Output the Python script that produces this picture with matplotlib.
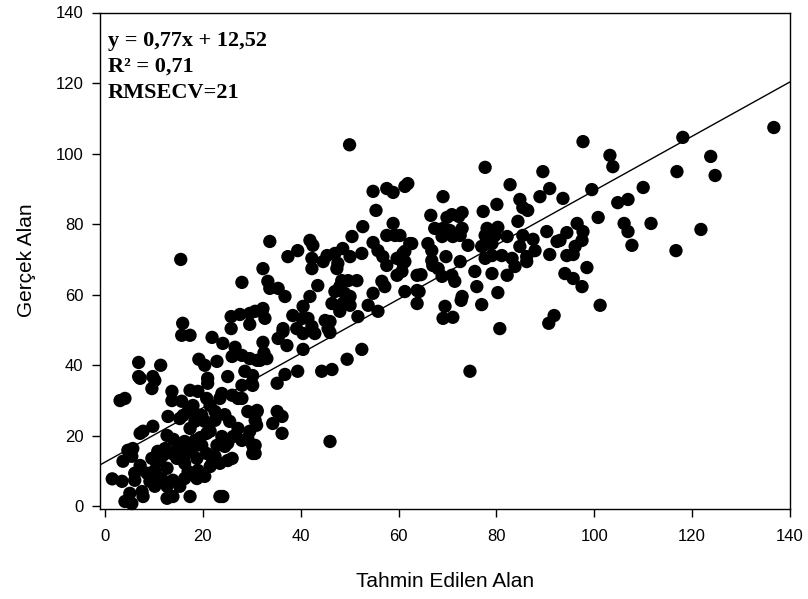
import numpy as np
import matplotlib
matplotlib.use("Agg")
from matplotlib import pyplot as plt

pred = [
    4.1, 3.1, 7.2, 9.6, 9.8, 6.9, 6.9, 11.4, 13.7, 13.7, 15.7, 17.4, 19.0, 21.0, 21.0, 25.1,
    23.9, 26.0, 28.0, 30.0, 27.2, 31.1, 29.2, 18.0, 18.4, 19.8, 21.5, 22.5, 12.9, 15.3, 9.8,
    7.2, 12.7, 17.4, 18.4, 20.8, 25.5, 27.2, 29.2, 30.7, 30.7, 28.0, 23.9, 22.9, 24.5, 21.9,
    26.0, 4.7, 3.7, 5.5, 7.2, 9.6, 10.8, 12.3, 11.2, 13.7, 14.7, 16.3, 17.8, 18.8, 16.3, 17.0,
    19.0, 12.7, 10.2, 8.6, 6.1, 1.5, 3.5, 6.1, 9.2, 11.6, 13.9, 16.3, 18.8, 15.3, 12.7, 10.2,
    7.6, 5.1, 4.1, 5.5, 7.8, 12.7, 13.9, 17.4, 23.5, 24.1, 20.4, 21.5, 22.5, 25.1, 23.5,
    14.9, 16.3, 18.4, 19.8, 16.8, 20.8, 20.4, 17.0, 30.7, 31.0, 26.2,
    20.8, 23.5, 28.0, 16.0, 22.5, 29.6, 7.8, 21.5, 25.1, 15.3, 11.9, 5.7, 10.2, 19.5, 14.0, 24.5,
    15.5, 28.0, 32.3, 15.9, 15.7, 17.4, 25.8, 27.6, 29.6, 29.6, 25.8, 32.1, 21.9, 24.1, 26.6,
    26.0, 28.0, 29.6, 31.7, 19.2, 20.4, 22.9, 28.6, 30.2, 32.3, 32.5,
    35.4, 37.2, 40.5, 36.4, 40.5, 42.9, 46.0, 31.1, 33.1, 36.8, 39.4, 35.2, 30.2, 44.3, 46.4,
    49.5, 52.5, 31.1, 35.2, 36.2, 34.3, 36.2, 30.2, 30.2, 46.0,
    54.8, 57.6, 58.9, 61.3, 61.9, 55.4, 58.9, 52.7, 50.5, 57.6, 59.3, 54.8, 62.7, 33.7, 41.9,
    42.5, 39.4, 37.4, 42.3, 45.4, 47.0, 48.6, 50.1, 52.5, 55.8, 56.8, 59.7, 61.3, 60.9, 57.6,
    59.7, 63.8, 44.6, 47.6, 47.4, 42.3, 33.3, 33.7, 35.4, 36.8, 43.5, 41.9, 48.4, 49.7,
    51.5, 48.0, 47.0, 49.0, 50.1, 46.4, 48.6, 50.1, 48.0, 46.0, 40.5, 38.4, 40.3, 41.5, 42.3,
    45.0, 45.6, 30.7, 32.3, 32.7, 36.4, 39.2, 51.7, 53.8, 54.8, 56.6, 57.2, 55.8, 63.8, 50.0,
    77.7, 89.5, 82.8, 90.9, 69.1, 80.1, 84.8, 85.4, 86.4, 88.9, 77.3, 66.6, 69.9, 70.9, 73.0,
    72.3, 84.4, 67.4, 69.1, 70.5, 73.0, 68.9, 71.1, 72.6, 78.1, 80.3, 77.7, 79.7, 82.2, 85.4,
    87.5, 90.3, 92.4, 62.3, 66.0, 66.8, 69.7, 74.2, 77.0, 79.1, 84.8, 87.9, 86.2, 86.2, 90.9,
    60.3, 60.9, 61.3, 60.7, 66.8, 67.0, 68.1, 68.9, 70.9, 71.5, 72.6, 75.6, 77.7, 79.1, 81.1,
    83.2, 83.8, 79.1, 82.2, 76.0, 80.3, 64.6, 61.3, 73.0,
    64.2, 63.8, 69.5, 69.1, 71.1, 72.8, 77.0, 80.7, 74.6, 91.8, 90.7,
    97.7, 103.2, 103.8, 118.1, 136.7, 123.8, 124.7, 116.9, 110.0, 99.5, 93.6, 104.8, 106.9,
    100.8, 96.5, 94.4, 97.7, 97.5, 96.1, 95.7, 94.4, 106.1, 106.9, 107.7, 111.6, 121.8, 116.7,
    93.0, 98.5, 94.0, 95.7, 97.5, 101.2,
]
actual = [
    30.6, 30.0, 36.3, 33.4, 36.8, 36.8, 40.8, 40.0, 32.6, 30.0, 29.8, 32.9, 32.6, 34.9, 36.3, 36.8,
    32.0, 31.5, 34.3, 34.9, 30.6, 27.2, 26.9, 28.6, 26.4, 25.8, 28.6, 26.9, 25.5, 24.9, 22.7,
    20.7, 20.1, 22.1, 24.1, 20.7, 24.1, 22.1, 19.3, 17.3, 15.0, 18.7, 19.8, 17.3, 17.0, 12.2,
    13.6, 15.9, 12.8, 14.2, 11.6, 13.6, 15.6, 16.4, 13.0, 15.0, 13.6, 14.5, 15.9, 13.6, 12.2, 9.9,
    10.2, 10.8, 10.2, 9.4, 9.4, 7.8, 7.1, 7.4, 7.1, 7.9, 7.4, 7.9, 7.9, 5.7, 5.7, 5.7,
    4.2, 3.7, 1.4, 0.8, 2.8, 2.3, 2.8, 2.8, 2.8, 2.8, 8.5, 11.3, 14.2, 13.0, 12.2,
    17.3, 18.4, 18.7, 17.3, 16.4, 15.0, 24.1, 26.9, 24.4, 23.0, 19.8,
    30.6, 30.6, 30.6, 25.8, 24.4, 21.3, 21.3, 21.3, 17.9, 15.9, 14.5, 16.4, 35.7, 19.5, 19.0, 26.0,
    70.0, 63.5, 67.4, 51.9, 48.5, 48.5, 53.8, 54.4, 54.7, 51.6, 50.4, 55.3, 47.9, 46.2, 45.1,
    42.5, 42.8, 41.9, 41.4, 41.7, 40.0, 41.1, 38.3, 37.1, 46.5, 43.5,
    47.6, 45.6, 44.5, 49.6, 49.0, 49.0, 49.3, 41.4, 41.9, 37.4, 38.3, 34.9, 34.3, 38.3, 38.8,
    41.7, 44.5, 26.9, 26.9, 25.5, 23.5, 20.7, 17.3, 15.0, 18.4,
    89.3, 90.1, 89.0, 90.7, 91.5, 83.9, 80.2, 79.3, 76.5, 76.8, 76.8, 74.8, 74.5, 75.1, 75.4,
    74.0, 72.5, 70.8, 70.3, 71.1, 71.7, 73.1, 70.8, 71.7, 72.5, 70.8, 70.3, 72.3, 68.9, 68.3,
    65.5, 65.5, 69.4, 68.9, 67.4, 67.4, 63.8, 61.8, 61.8, 59.5, 62.6, 59.5, 64.0, 64.0,
    64.0, 62.3, 60.9, 60.4, 59.5, 57.5, 57.5, 57.0, 55.3, 52.4, 56.7, 54.1, 53.3, 53.3, 51.0,
    52.7, 50.4, 55.3, 56.1, 53.3, 50.4, 50.4, 53.8, 57.0, 60.4, 63.8, 62.3, 55.3, 61.2, 102.5,
    96.1, 94.9, 91.2, 90.1, 87.8, 85.6, 87.0, 84.7, 83.9, 87.8, 83.6, 82.5, 81.9, 82.7, 83.3,
    82.2, 80.8, 78.8, 78.8, 78.2, 78.8, 76.5, 76.5, 76.8, 78.8, 79.1, 76.8, 76.8, 76.5, 76.8,
    75.7, 77.9, 75.1, 74.5, 74.5, 72.5, 70.8, 74.0, 73.7, 74.5, 73.7, 72.5, 70.8, 69.4, 71.4,
    76.8, 71.7, 69.4, 66.6, 69.7, 68.3, 67.4, 65.2, 65.5, 63.8, 69.4, 66.6, 70.3, 71.1, 71.1,
    70.3, 68.0, 66.0, 65.5, 62.3, 60.6, 65.7, 60.9, 59.5,
    60.9, 57.5, 56.7, 53.3, 53.6, 58.4, 57.2, 50.4, 38.3, 54.1, 51.9,
    103.4, 99.5, 96.3, 104.6, 107.4, 99.2, 93.8, 94.9, 90.4, 89.8, 87.3, 86.1, 87.0,
    81.9, 80.2, 77.6, 77.9, 75.4, 73.7, 71.4, 71.1, 80.2, 77.9, 74.0, 80.2, 78.5, 72.5,
    75.4, 67.7, 66.0, 64.6, 62.3, 57.0,
]

slope = 0.77
intercept = 12.52
stats_lines = ["y = 0,77x + 12,52", "R² = 0,71", "RMSECV=21"]

x_ticks = np.arange(0, 141, 20)
y_ticks = np.arange(0, 141, 20)

fig = plt.figure(figsize=(8.08, 5.99), dpi=100)
ax = fig.add_axes([100 / 808, 1 - 508.5 / 599, 690 / 808, 496 / 599])

ax.scatter(pred, actual, s=92, c="black", edgecolors="none", clip_on=False, zorder=3)

xl = np.array([-1.0, 140])
ax.plot(xl, slope * xl + intercept, color="black", lw=1.0, zorder=2)

ax.set_xlim(-1.0, 140)
ax.set_ylim(-0.6, 140)
ax.set_xticks(x_ticks)
ax.set_yticks(y_ticks)
ax.tick_params(direction="out", length=6, width=1, labelsize=12, pad=6,
               top=False, right=False)
ax.tick_params(axis="x", pad=9)
for lab in ax.get_xticklabels() + ax.get_yticklabels():
    lab.set_family("Liberation Sans")
for sp in ax.spines.values():
    sp.set_linewidth(1.0)

ax.set_xlabel("Tahmin Edilen Alan", fontsize=15, family="Liberation Sans", labelpad=20)
ax.set_ylabel("Gerçek Alan", fontsize=15, family="Liberation Sans", labelpad=14)

for i, line in enumerate(stats_lines):
    fig.text(108 / 808, 1 - (46 + 26 * i) / 599, line, fontsize=16, fontweight="bold",
             family="Liberation Serif", va="baseline", ha="left")

fig.savefig("out.png", dpi=100)
